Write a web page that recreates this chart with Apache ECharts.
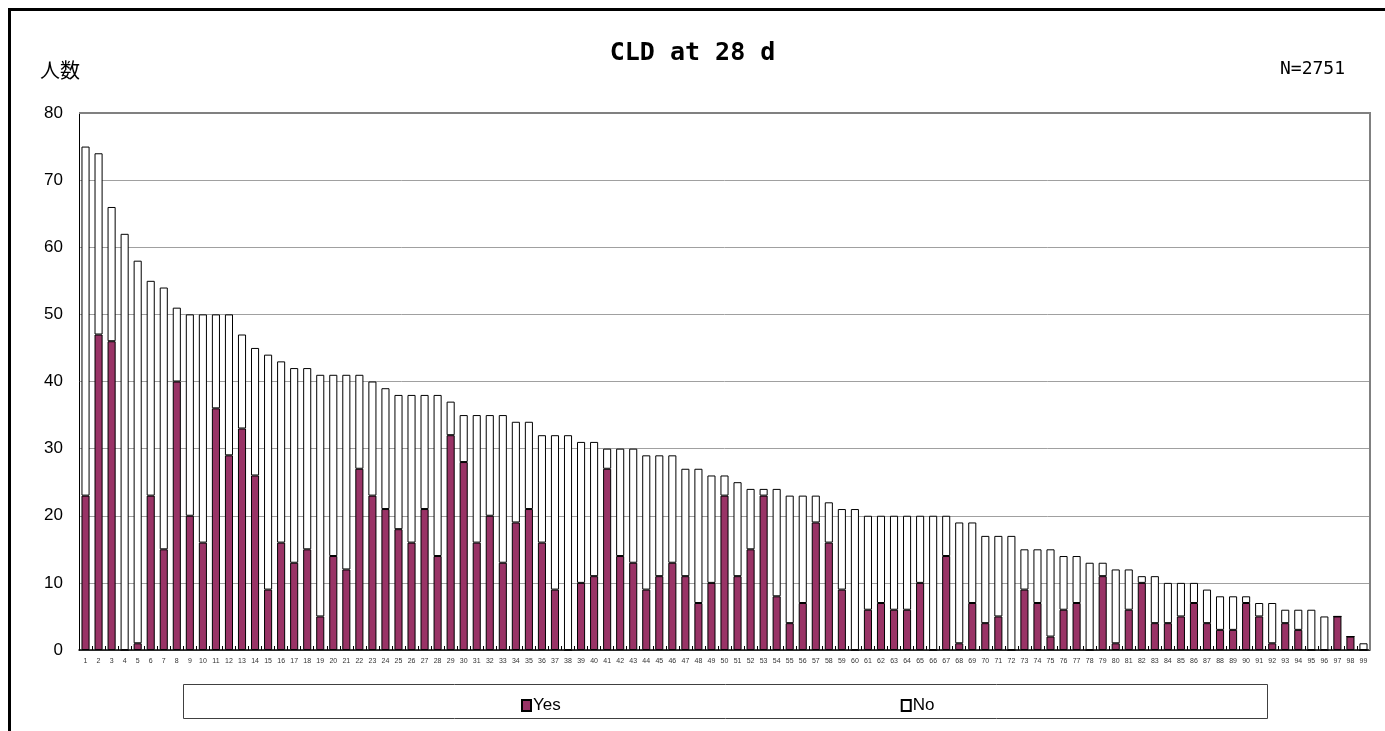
<!DOCTYPE html>
<html>
<head>
<meta charset="utf-8">
<script src="https://cdn.jsdelivr.net/npm/echarts@6/dist/echarts.min.js"></script>
<style>
html,body{margin:0;padding:0;background:#fff;}
#c{width:1385px;height:731px;}
</style>
</head>
<body>
<div id="c"></div>
<script>
const categories = Array.from({length: 99}, (_, i) => String(i + 1));
const totals = [75,74,66,62,58,55,54,51,50,50, 50,50,47,45,44,43,42,42,41,41,
  41,41,40,39,38,38,38,38,37,35, 35,35,35,34,34,32,32,32,31,31,
  30,30,30,29,29,29,27,27,26,26, 25,24,24,24,23,23,23,22,21,21,
  20,20,20,20,20,20,20,19,19,17, 17,17,15,15,15,14,14,13,13,12,
  12,11,11,10,10,10,9,8,8,8, 7,7,6,6,6,5,5,2,1];
const yesValues = [23,47,46,0,1,23,15,40,20,16, 36,29,33,26,9,16,13,15,5,14,
  12,27,23,21,18,16,21,14,32,28, 16,20,13,19,21,16,9,0,10,11,
  27,14,13,9,11,13,11,7,10,23, 11,15,23,8,4,7,19,16,9,0,
  6,7,6,6,10,0,14,1,7,4, 5,0,9,7,2,6,7,0,11,1,
  6,10,4,4,5,7,4,3,3,7, 5,1,4,3,0,0,5,2,0];
const noValues = totals.map((t, i) => t - yesValues[i]);
const yTicks = [0,10,20,30,40,50,60,70,80];

const chart = echarts.init(document.getElementById('c'), null, {renderer: 'canvas'});
const font = '"Liberation Sans", Arial, sans-serif';
const mono = '"DejaVu Sans Mono", monospace';
chart.setOption({
  animation: false,
  backgroundColor: '#fff',
  title: {
    text: 'CLD at 28 d', left: 'center', top: 36,
    textStyle: {fontSize: 25, fontWeight: 'bold', color: '#000', fontFamily: mono}
  },
  graphic: [
    {type: 'line', shape: {x1: 9.5, y1: 9, x2: 9.5, y2: 740}, style: {stroke: '#000', lineWidth: 3}},
    {type: 'line', shape: {x1: 8, y1: 9.5, x2: 1400, y2: 9.5}, style: {stroke: '#000', lineWidth: 3}},
    {type: 'text', left: 40, top: 60, style: {text: '人数', fontSize: 20, fill: '#000', fontFamily: '"Noto Sans CJK JP", sans-serif'}},
    {type: 'text', left: 1280, top: 60, style: {text: 'N=2751', fontSize: 18, fill: '#000', fontFamily: mono}},
    {type: 'rect', shape: {x: 183.5, y: 684.5, width: 1084, height: 34}, style: {fill: 'none', stroke: '#404040', lineWidth: 1}, z: 0},
    {type: 'line', shape: {x1: 79, y1: 113, x2: 1370, y2: 113}, style: {stroke: '#808080', lineWidth: 2}, z: 10},
    {type: 'line', shape: {x1: 1370, y1: 112, x2: 1370, y2: 650}, style: {stroke: '#808080', lineWidth: 2}, z: 10}
  ],
  legend: {
    data: ['Yes', 'No'],
    left: 516, top: 692,
    itemWidth: 9, itemHeight: 11, itemGap: 340,
    icon: 'rect',
    textStyle: {fontSize: 17, color: '#000', fontFamily: font, padding: [0,0,0,-3]}
  },
  grid: {left: 79, right: 15, top: 113, bottom: 81, containLabel: false},
  xAxis: {
    type: 'category', data: categories,
    axisLine: {show: true, lineStyle: {color: '#000', width: 1.5}},
    axisTick: {show: true, inside: true, length: 4, lineStyle: {color: '#000'}},
    axisLabel: {interval: 0, fontSize: 7, color: '#333', margin: 8, fontFamily: font}
  },
  yAxis: {
    type: 'value', min: 0, max: 80, interval: 10,
    axisLine: {show: true, lineStyle: {color: '#000', width: 1}},
    axisTick: {show: false},
    axisLabel: {fontSize: 17, color: '#000', margin: 16, fontFamily: font,
      formatter: v => yTicks.includes(v) ? String(v) : ''},
    splitLine: {show: true, lineStyle: {color: '#a0a0a0', width: 1}}
  },
  series: [
    {name: 'Yes', type: 'bar', stack: 'a', data: yesValues, barWidth: '62%',
     itemStyle: {color: '#993366', borderColor: '#000', borderWidth: 1}},
    {name: 'No', type: 'bar', stack: 'a', data: noValues, barWidth: '62%',
     itemStyle: {color: '#fff', borderColor: '#000', borderWidth: 1}}
  ]
});
</script>
</body>
</html>
